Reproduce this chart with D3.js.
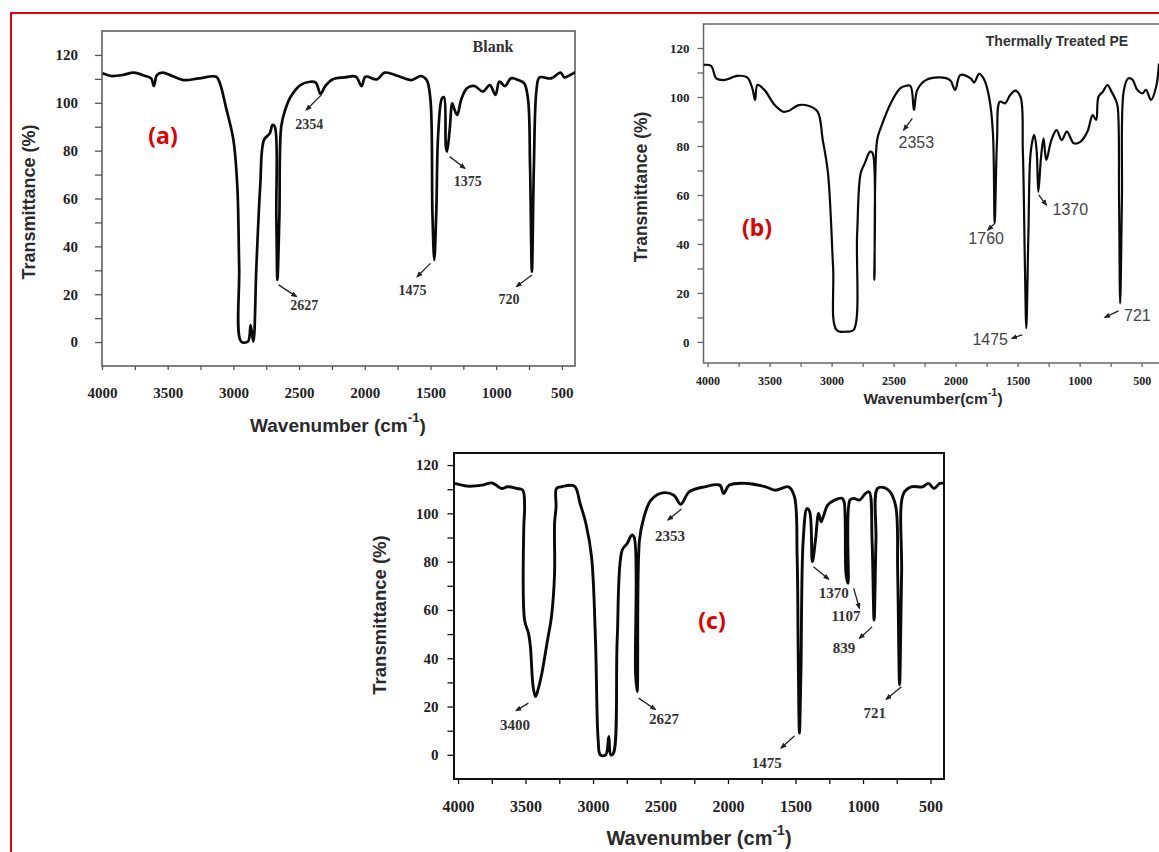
<!DOCTYPE html>
<html>
<head>
<meta charset="utf-8">
<script src="https://cdn.jsdelivr.net/npm/d3@7"></script>
<style>
  body { margin: 0; background: #fff; }
</style>
</head>
<body>
<svg id="fig" width="1159" height="852"></svg>
<script>
// ---- data ----
const wnTicks = [4000, 3750, 3500, 3250, 3000, 2750, 2500, 2250, 2000, 1750, 1500, 1250, 1000, 750, 500];
const tTicks = [0, 10, 20, 30, 40, 50, 60, 70, 80, 90, 100, 110, 120];

// (a) Blank
const blankWn = [3996, 3932, 3844, 3757, 3670, 3626, 3605, 3582, 3539, 3466, 3378, 3262, 3131, 3102, 3058, 3000, 2970, 2956, 2941, 2889, 2869, 2848, 2825, 2796, 2767, 2723, 2703, 2685, 2673, 2665, 2650, 2636, 2606, 2563, 2490, 2417, 2373, 2336, 2301, 2243, 2155, 2068, 2024, 1995, 1907, 1849, 1747, 1646, 1573, 1529, 1500, 1485, 1471, 1456, 1441, 1412, 1397, 1383, 1374, 1354, 1334, 1316, 1296, 1267, 1223, 1165, 1101, 1048, 1005, 976, 932, 888, 830, 786, 757, 742, 728, 713, 693, 670, 582, 510, 480, 437, 393];
const blankT = [112.3, 111.2, 111.6, 112.6, 111.2, 110.2, 107, 111.6, 112.6, 111.2, 109.5, 110.2, 110.9, 108.1, 98.4, 84.5, 65, 31.5, 0.2, 0.2, 7.1, 0.2, 31.5, 65, 84.5, 87.2, 90.7, 90, 52.4, 26, 52.4, 90, 97, 102.6, 107.4, 108.8, 108.4, 103.7, 107, 109.8, 110.6, 110.9, 107, 110.9, 109.8, 112.6, 111.2, 109.5, 111.2, 109.5, 101.2, 53.8, 34.3, 53.8, 87.2, 101.9, 102.3, 81.7, 79.6, 88.6, 99.8, 97, 94.9, 101.2, 106.1, 107, 104.7, 107.4, 103.3, 108.8, 107, 110.2, 109.5, 108.1, 101.2, 73.3, 29.4, 73.3, 105.4, 110.6, 110.2, 112.6, 110.6, 111.6, 113];
const blankNotes = [
  { label: '2354', text: [2423, 91], from: [2330, 103.3], to: [2446, 97] },
  { label: '2627', text: [2461, 15.1], from: [2656, 23.9], to: [2520, 19] },
  { label: '1475', text: [1636, 21.4], from: [1500, 32.9], to: [1602, 27.3] },
  { label: '1375', text: [1217, 67.3], from: [1354, 77.5], to: [1238, 72.6] },
  { label: '720', text: [903, 17.6], from: [728, 28], to: [845, 23.2] }
];

// (b) Thermally treated PE
const treatedWn = [4033, 3972, 3930, 3875, 3820, 3764, 3681, 3639, 3617, 3598, 3542, 3459, 3390, 3348, 3265, 3182, 3113, 3071, 3029, 2988, 2960, 2877, 2822, 2794, 2766, 2733, 2689, 2669, 2655, 2633, 2600, 2517, 2447, 2406, 2364, 2336, 2309, 2240, 2129, 2045, 2004, 1962, 1879, 1851, 1810, 1768, 1726, 1699, 1685, 1666, 1643, 1602, 1560, 1519, 1477, 1458, 1441, 1430, 1413, 1394, 1366, 1347, 1333, 1311, 1291, 1269, 1228, 1186, 1144, 1103, 1047, 992, 937, 895, 867, 848, 812, 776, 743, 709, 693, 682, 673, 659, 645, 609, 576, 535, 493, 465, 424, 382, 360];
const treatedT = [113.1, 112.7, 107.6, 106.9, 107.6, 108.6, 108, 103.5, 98.8, 104.9, 102.9, 96.7, 94, 94.3, 96.7, 96.3, 94, 82.4, 68.8, 30.7, 4.9, 4.2, 4.9, 44.3, 68.8, 72.9, 77.7, 77, 25.3, 82.4, 87.9, 98.1, 103.5, 104.5, 104.5, 94.7, 102.9, 106.9, 108, 106.9, 102.9, 109, 107.6, 105.9, 109.4, 106.9, 98.8, 85.2, 48.4, 82.4, 98.1, 97.4, 100.8, 102.6, 100.1, 78.4, 30.7, 5.6, 44.3, 77.7, 84.5, 78.4, 61.3, 75.6, 83.1, 74.3, 82.4, 86.5, 82.4, 85.9, 81.1, 81.8, 85.9, 92.6, 90.6, 100.1, 102.2, 104.9, 102.2, 98.8, 96, 57.9, 15.7, 57.9, 102.2, 107.6, 107.2, 102.9, 101.5, 102.9, 98.8, 104.4, 113.7];
const treatedNotes = [
  { label: '2353', text: [2317, 81.4], from: [2349, 91.3], to: [2419, 86.5] },
  { label: '1760', text: [1754, 42.3], from: [1685, 48.4], to: [1740, 45.7] },
  { label: '1370', text: [1075, 54.2], from: [1330, 60], to: [1268, 55.9] },
  { label: '1475', text: [1721, 0.9], from: [1463, 2.9], to: [1546, 1.5] },
  { label: '721', text: [534, 10.6], from: [686, 12.7], to: [797, 10] }
];

// (c)
const cWn = [4023, 3932, 3819, 3748, 3677, 3634, 3563, 3521, 3507, 3513, 3507, 3478, 3464, 3444, 3427, 3408, 3379, 3337, 3308, 3285, 3285, 3274, 3271, 3237, 3138, 3096, 3053, 3011, 2982, 2962, 2946, 2906, 2883, 2869, 2849, 2821, 2784, 2747, 2713, 2696, 2685, 2673, 2656, 2622, 2571, 2486, 2401, 2350, 2288, 2174, 2061, 2033, 1990, 1863, 1721, 1650, 1551, 1508, 1488, 1480, 1471, 1460, 1443, 1415, 1395, 1375, 1352, 1329, 1310, 1290, 1262, 1211, 1154, 1140, 1126, 1111, 1097, 1069, 1026, 983, 955, 933, 918, 904, 893, 842, 799, 757, 743, 729, 714, 700, 643, 558, 516, 474, 431, 397];
const cT = [112.4, 111.3, 111.7, 112.6, 110.3, 111, 110.3, 109.6, 102.7, 94.4, 55.8, 50.3, 44.8, 28.3, 24.1, 26.9, 33.8, 47.6, 57.2, 75.1, 95.8, 102.7, 110.3, 111, 111.3, 104.1, 95.8, 82, 47.6, 6.2, 0, 0, 7.6, 0, 0.7, 47.6, 84.8, 87.5, 91, 90.3, 33.8, 26.2, 88.9, 98.6, 105.5, 108.5, 107.5, 103.8, 108.9, 111, 111.7, 108.2, 111.7, 112.4, 111, 109.6, 111, 106.9, 82, 42.1, 9, 33.8, 88.9, 102, 100.7, 80, 88.9, 100, 96.5, 99.3, 103.4, 105.5, 106.2, 104.8, 75.1, 71, 105.5, 106.2, 105.5, 108.2, 108.9, 88.9, 55.8, 88.9, 110.3, 110.7, 108.9, 102.7, 75.1, 29, 75.1, 108.2, 111, 111, 112.4, 110.3, 112.4, 112.4];
const cNotes = [
  { label: '3400', text: [3578, 12.4], from: [3479, 21.4], to: [3570, 18.3] },
  { label: '2627', text: [2474, 14.9], from: [2662, 23.5], to: [2538, 18.8] },
  { label: '2353', text: [2430, 90.7], from: [2345, 101.8], to: [2445, 97.3] },
  { label: '1475', text: [1713, -3.2], from: [1508, 7.8], to: [1607, 2.8] },
  { label: '1370', text: [1217, 67.1], from: [1367, 77.9], to: [1254, 72.7] },
  { label: '1107', text: [1126, 57.5], from: [1069, 69], to: [1027, 60.7] },
  { label: '839', text: [1141, 44.2], from: [933, 53], to: [1027, 48.2] },
  { label: '721', text: [913, 17.3], from: [715, 28.2], to: [828, 23] }
];

// ---- drawing ----
const svg = d3.select('#fig');
const serif = '"Liberation Serif", "Times New Roman", serif';
const sans = '"Liberation Sans", Arial, sans-serif';

svg.append('defs').append('marker')
  .attr('id', 'head').attr('viewBox', '0 0 10 10').attr('refX', 8).attr('refY', 5)
  .attr('markerWidth', 5).attr('markerHeight', 5).attr('orient', 'auto')
  .append('path').attr('d', 'M0,1 L10,5 L0,9 Z').attr('fill', '#222');

function panel(cfg) {
  const g = svg.append('g');
  const x = d3.scaleLinear().domain(cfg.xDomain).range([cfg.left, cfg.right]);
  const y = d3.scaleLinear().domain(cfg.yDomain).range([cfg.bottom, cfg.top]);

  const yAxis = d3.axisLeft(y).tickValues(tTicks).tickSize(cfg.yTick).tickPadding(cfg.yPad)
    .tickFormat(d => d % 20 === 0 ? d : '');
  const ya = g.append('g').attr('transform', `translate(${cfg.left},0)`).call(yAxis);
  ya.select('.domain').remove();
  ya.selectAll('line').attr('stroke', cfg.frameColor).attr('stroke-width', 1.3);
  ya.selectAll('text').attr('font-family', serif).attr('font-weight', 'bold')
    .attr('font-size', cfg.yFont).attr('fill', '#222');

  const xAxis = d3.axisBottom(x).tickValues(wnTicks).tickSize(cfg.xTick).tickPadding(cfg.xPad)
    .tickFormat(d => d % 500 === 0 ? d : '');
  const xa = g.append('g').attr('transform', `translate(0,${cfg.bottom})`).call(xAxis);
  xa.select('.domain').remove();
  xa.selectAll('line').attr('stroke', cfg.frameColor).attr('stroke-width', 1.3);
  xa.selectAll('text').attr('font-family', serif).attr('font-weight', 'bold')
    .attr('font-size', cfg.xFont).attr('fill', '#222');

  g.append('rect')
    .attr('x', cfg.left).attr('y', cfg.top)
    .attr('width', cfg.frameRight - cfg.left).attr('height', cfg.bottom - cfg.top)
    .attr('fill', 'none').attr('stroke', cfg.frameColor).attr('stroke-width', cfg.frameWidth);

  const clipId = 'clip-' + cfg.id;
  g.append('clipPath').attr('id', clipId).append('rect')
    .attr('x', cfg.left).attr('y', cfg.top)
    .attr('width', cfg.frameRight - cfg.left).attr('height', cfg.bottom - cfg.top);

  const pts = cfg.wn.map((w, i) => [w, cfg.t[i]]);
  g.append('path')
    .datum(pts)
    .attr('clip-path', `url(#${clipId})`)
    .attr('fill', 'none').attr('stroke', '#0a0a0a')
    .attr('stroke-width', cfg.lineWidth).attr('stroke-linejoin', 'round')
    .attr('d', d3.line().curve(d3.curveCatmullRom.alpha(0.5)).x(d => x(d[0])).y(d => y(d[1])));

  cfg.notes.forEach(n => {
    g.append('line')
      .attr('x1', x(n.from[0])).attr('y1', y(n.from[1]))
      .attr('x2', x(n.to[0])).attr('y2', y(n.to[1]))
      .attr('stroke', '#222').attr('stroke-width', 1.3)
      .attr('marker-end', 'url(#head)');
    g.append('text')
      .attr('x', x(n.text[0])).attr('y', y(n.text[1]))
      .attr('text-anchor', 'middle').attr('dominant-baseline', 'central')
      .attr('font-family', cfg.noteFamily).attr('font-weight', cfg.noteWeight)
      .attr('font-size', cfg.noteFont).attr('fill', cfg.noteColor)
      .text(n.label);
  });

  // axis titles
  g.append('text')
    .attr('transform', `translate(${cfg.yTitle[0]},${cfg.yTitle[1]}) rotate(-90)`)
    .attr('text-anchor', 'middle').attr('dominant-baseline', 'central')
    .attr('font-family', sans).attr('font-weight', 'bold')
    .attr('font-size', cfg.yTitleFont).attr('fill', '#2a2a2a')
    .text('Transmittance (%)');

  const xt = g.append('text')
    .attr('x', cfg.xTitle[0]).attr('y', cfg.xTitle[1])
    .attr('text-anchor', 'middle').attr('dominant-baseline', 'central')
    .attr('font-family', sans).attr('font-weight', 'bold')
    .attr('font-size', cfg.xTitleFont).attr('fill', '#2a2a2a');
  xt.append('tspan').text(cfg.xTitleText);
  xt.append('tspan').attr('dy', -cfg.xTitleFont * 0.4).attr('font-size', cfg.xTitleFont * 0.7).text('-1');
  xt.append('tspan').attr('dy', cfg.xTitleFont * 0.4).text(')');

  // panel letter
  g.append('text')
    .attr('x', cfg.letterPos[0]).attr('y', cfg.letterPos[1])
    .attr('text-anchor', 'middle').attr('dominant-baseline', 'central')
    .attr('font-family', '"Noto Sans", sans-serif').attr('font-weight', 'bold')
    .attr('font-size', 23).attr('fill', '#e00000')
    .text(cfg.letter);

  if (cfg.caption) {
    g.append('text')
      .attr('x', cfg.caption.pos[0]).attr('y', cfg.caption.pos[1])
      .attr('text-anchor', 'middle').attr('dominant-baseline', 'central')
      .attr('font-family', cfg.caption.family).attr('font-weight', 'bold')
      .attr('font-size', cfg.caption.size).attr('fill', cfg.caption.color)
      .text(cfg.caption.text);
  }
}

// red outline
svg.append('rect').attr('x', 11).attr('y', 13).attr('width', 1170).attr('height', 860)
  .attr('fill', 'none').attr('stroke', '#e8000b').attr('stroke-width', 2);

panel({
  id: 'a', wn: blankWn, t: blankT, notes: blankNotes,
  left: 102, right: 575, frameRight: 575, top: 31, bottom: 366,
  xDomain: [4000, 400], yDomain: [-10, 130],
  frameColor: '#555', frameWidth: 1.5, lineWidth: 2.7,
  yTick: 7, yPad: 17, yFont: 15, xTick: 4, xPad: 17, xFont: 15,
  noteFamily: serif, noteWeight: 'bold', noteFont: 14, noteColor: '#333',
  yTitle: [29, 202], yTitleFont: 18, xTitle: [338, 425], xTitleFont: 19, xTitleText: 'Wavenumber (cm',
  letter: '(a)', letterPos: [163, 135],
  caption: { text: 'Blank', pos: [493, 46], family: serif, size: 16, color: '#333' }
});

panel({
  id: 'b', wn: treatedWn, t: treatedT, notes: treatedNotes,
  left: 703.5, right: 1159, frameRight: 1161, top: 24, bottom: 363,
  xDomain: [4033, 360], yDomain: [-8.6, 129.8],
  frameColor: '#666', frameWidth: 1.5, lineWidth: 2.2,
  yTick: 6, yPad: 8, yFont: 13, xTick: 4, xPad: 9, xFont: 12,
  noteFamily: sans, noteWeight: 'normal', noteFont: 16, noteColor: '#444',
  yTitle: [641, 187], yTitleFont: 17.5, xTitle: [933, 398], xTitleFont: 15.5, xTitleText: 'Wavenumber(cm',
  letter: '(b)', letterPos: [757, 227],
  caption: { text: 'Thermally Treated PE', pos: [1057, 41], family: sans, size: 14, color: '#333' }
});

panel({
  id: 'c', wn: cWn, t: cT, notes: cNotes,
  left: 454, right: 944, frameRight: 944, top: 453, bottom: 779,
  xDomain: [4030, 400], yDomain: [-10, 125],
  frameColor: '#111', frameWidth: 2, lineWidth: 2.9,
  yTick: 6.5, yPad: 9, yFont: 15, xTick: 5, xPad: 17, xFont: 16,
  noteFamily: serif, noteWeight: 'bold', noteFont: 15, noteColor: '#333',
  yTitle: [379, 615], yTitleFont: 18.5, xTitle: [699, 838], xTitleFont: 20, xTitleText: 'Wavenumber (cm',
  letter: '(c)', letterPos: [712, 620]
});
</script>
</body>
</html>
